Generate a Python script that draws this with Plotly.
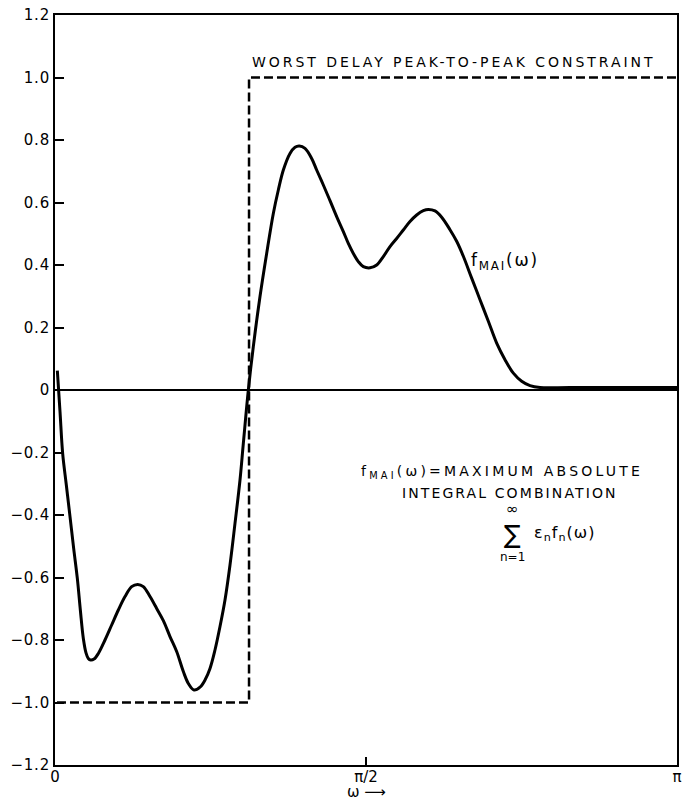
import plotly.graph_objects as go

# ---- data ----
omega = [0.0118, 0.0253, 0.0387, 0.0572, 0.0758, 0.0943, 0.1128, 0.1280, 0.1431, 0.1566,
         0.1683, 0.1802, 0.1970, 0.2189, 0.2525, 0.2862, 0.3199, 0.3536, 0.3872, 0.4176,
         0.4461, 0.4798, 0.5135, 0.5472, 0.5808, 0.6145, 0.6482, 0.6734, 0.7021, 0.7324,
         0.7577, 0.7829, 0.8081, 0.8334, 0.8586, 0.8839, 0.9091, 0.9344, 0.9512, 0.9765,
         1.0017, 1.0354, 1.0691, 1.1027, 1.1280, 1.1533, 1.1869, 1.2122, 1.2341, 1.2627,
         1.2964, 1.3216, 1.3553, 1.3890, 1.4226, 1.4563, 1.4815, 1.5068, 1.5320, 1.5573,
         1.5910, 1.6247, 1.6583, 1.6920, 1.7257, 1.7593, 1.7930, 1.8267, 1.8604, 1.8856,
         1.9193, 1.9530, 1.9950, 2.0287, 2.0624, 2.1045, 2.1466, 2.1887, 2.2308, 2.2729,
         2.3150, 2.3571, 2.3992, 2.4497, 2.6000, 2.9000, 3.1416]
f_mai = [0.062, -0.069, -0.203, -0.304, -0.405, -0.507, -0.603, -0.704, -0.795, -0.841,
         -0.859, -0.864, -0.861, -0.843, -0.800, -0.752, -0.704, -0.661, -0.629, -0.622,
         -0.629, -0.661, -0.699, -0.738, -0.789, -0.837, -0.901, -0.939, -0.960, -0.951,
         -0.928, -0.891, -0.832, -0.757, -0.672, -0.560, -0.427, -0.288, -0.171, 0.000,
         0.139, 0.299, 0.437, 0.565, 0.640, 0.704, 0.757, 0.777, 0.781, 0.773,
         0.741, 0.704, 0.656, 0.606, 0.555, 0.507, 0.469, 0.437, 0.411, 0.395,
         0.391, 0.400, 0.427, 0.459, 0.485, 0.512, 0.539, 0.560, 0.574, 0.578,
         0.573, 0.553, 0.513, 0.476, 0.428, 0.358, 0.289, 0.220, 0.150, 0.097,
         0.054, 0.028, 0.014, 0.008, 0.008, 0.008, 0.008]

constraint_omega = [0.01, 0.98, 0.98, 3.1416]
constraint_val = [-1.0, -1.0, 1.0, 1.0]

y_tickvals = [1.2, 1.0, 0.8, 0.6, 0.4, 0.2, 0, -0.2, -0.4, -0.6, -0.8, -1.0, -1.2]
y_ticktext = ["1.2", "1.0", "0.8", "0.6", "0.4", "0.2", "0", "\u22120.2", "\u22120.4",
              "\u22120.6", "\u22120.8", "\u22121.0", "\u22121.2"]
x_tickvals = [0, 1.5708, 3.1416]
x_ticktext = ["0", "\u03c0/2", "\u03c0"]

FONT = "DejaVu Sans"


def sp(t, ls):
    return f'<span style="{ls}">{t}</span>'


fig = go.Figure()
fig.add_trace(go.Scatter(x=constraint_omega, y=constraint_val, mode="lines",
                         line=dict(color="black", width=2.5, dash="9px,4px"),
                         showlegend=False, hoverinfo="skip"))
fig.add_trace(go.Scatter(x=omega, y=f_mai, mode="lines",
                         line=dict(color="black", width=3, shape="spline", smoothing=1.0),
                         showlegend=False, hoverinfo="skip"))

ann_font = dict(family=FONT, size=14, color="black")
fig.add_annotation(x=2.015, y=1.05, xref="x", yref="y", showarrow=False,
                   text=sp("WORST DELAY PEAK-TO-PEAK CONSTRAINT", "letter-spacing:2.95px"),
                   font=ann_font, xanchor="center", yanchor="middle")
fig.add_annotation(x=2.090, y=0.41, xref="x", yref="y", showarrow=False,
                   text=sp("f<sub>MAI</sub>(\u03c9)", "letter-spacing:1.8px"),
                   font=dict(family=FONT, size=17, color="black"),
                   xanchor="left", yanchor="middle")
fig.add_annotation(x=1.535, y=-0.262, xref="x", yref="y", showarrow=False,
                   text=sp("f<sub>MAI</sub>(\u03c9)=MAXIMUM ABSOLUTE", "letter-spacing:3.2px"),
                   font=ann_font, xanchor="left", yanchor="middle")
fig.add_annotation(x=2.298, y=-0.33, xref="x", yref="y", showarrow=False,
                   text=sp("INTEGRAL COMBINATION", "letter-spacing:2.1px"), font=ann_font,
                   xanchor="center", yanchor="middle")
fig.add_annotation(x=2.313, y=-0.462, xref="x", yref="y", showarrow=False,
                   text="\u2211", font=dict(family=FONT, size=25, color="black"),
                   xanchor="center", yanchor="middle")
fig.add_annotation(x=2.313, y=-0.381, xref="x", yref="y", showarrow=False,
                   text="\u221e", font=dict(family=FONT, size=15, color="black"),
                   xanchor="center", yanchor="middle")
fig.add_annotation(x=2.313, y=-0.535, xref="x", yref="y", showarrow=False,
                   text="n=1", font=dict(family=FONT, size=12, color="black"),
                   xanchor="center", yanchor="middle")
fig.add_annotation(x=2.409, y=-0.458, xref="x", yref="y", showarrow=False,
                   text=sp("\u03b5<sub>n</sub>f<sub>n</sub>(\u03c9)", "letter-spacing:1px"),
                   font=dict(family=FONT, size=16, color="black"),
                   xanchor="left", yanchor="middle")
# axis caption  ω ⟶
fig.add_annotation(x=0.5, y=-0.0493, xref="paper", yref="paper", showarrow=False,
                   text="\u03c9 \u27f6", font=dict(family=FONT, size=15, color="black"),
                   xanchor="center", yanchor="bottom", borderpad=0)

fig.update_xaxes(range=[0, 3.1416], tickvals=x_tickvals, ticktext=x_ticktext,
                 ticks="inside", ticklen=8, tickwidth=1.5, tickcolor="black",
                 showline=True, linecolor="black", linewidth=2, mirror=True,
                 showgrid=False, zeroline=False, automargin=False,
                 ticklabelstandoff=-3,
                 tickfont=dict(family=FONT, size=15, color="black"))
fig.update_yaxes(range=[-1.2, 1.2], tickvals=y_tickvals,
                 ticktext=[sp(t, "letter-spacing:0.8px") for t in y_ticktext],
                 ticks="inside", ticklen=9, tickwidth=1.5, tickcolor="black",
                 showline=True, linecolor="black", linewidth=2, mirror=True,
                 showgrid=False, zeroline=True, zerolinecolor="black", zerolinewidth=1.5,
                 automargin=False,
                 tickfont=dict(family=FONT, size=15, color="black"))

fig.update_layout(width=686, height=802, margin=dict(l=55, r=9, t=15, b=37),
                  paper_bgcolor="white", plot_bgcolor="white", showlegend=False)

fig.write_html("out.html", config={"displayModeBar": False},
               post_script="document.body.style.margin='0';")
